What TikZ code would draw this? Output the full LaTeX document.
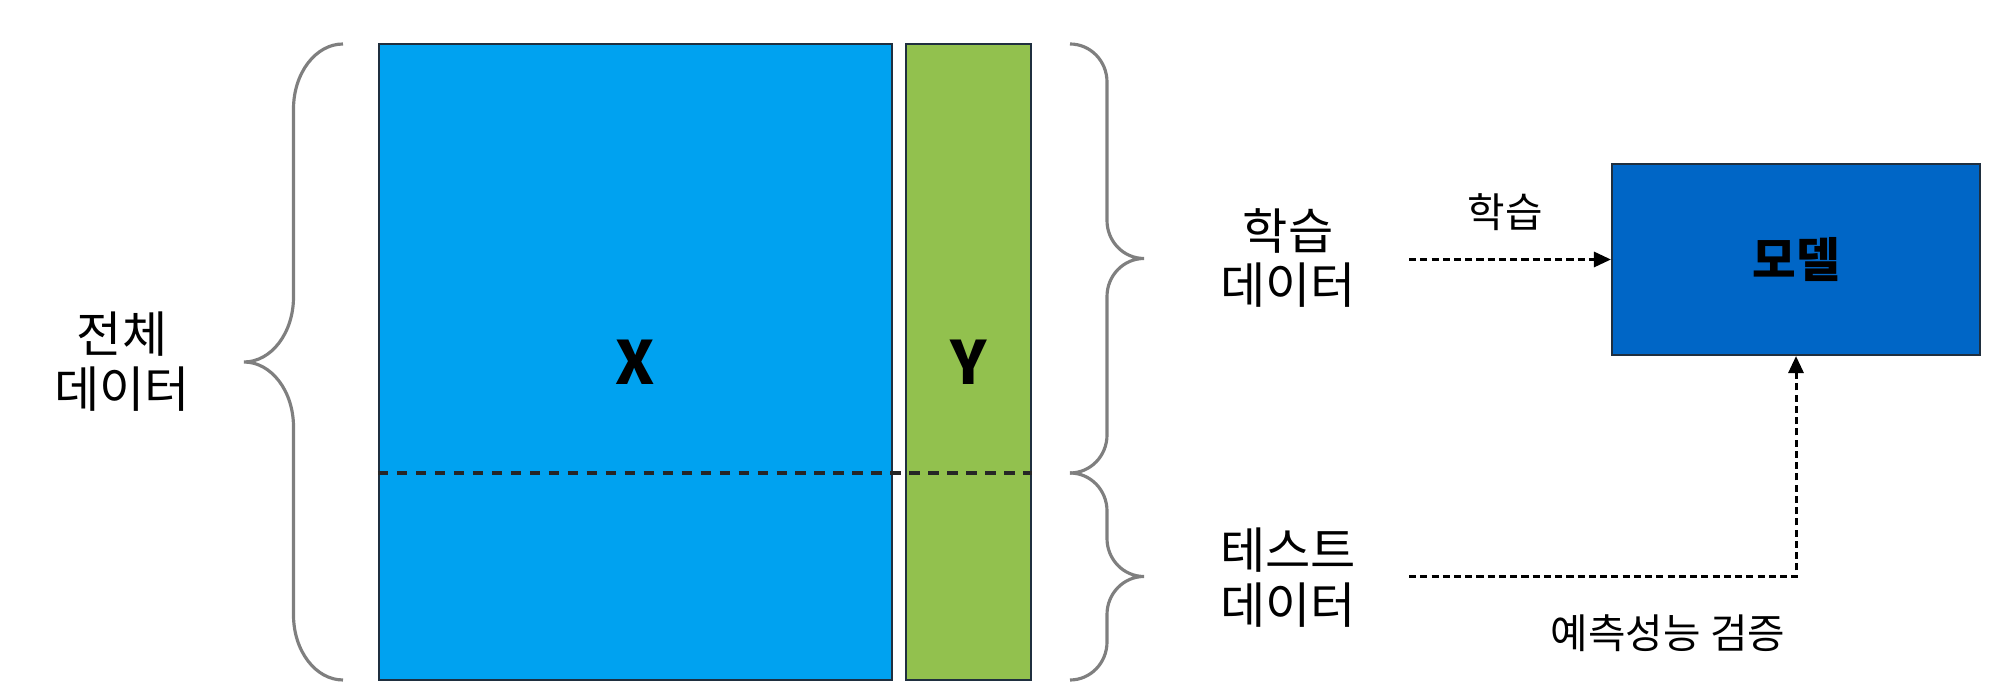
\documentclass[tikz,border=0pt]{standalone}
\usepackage{fontspec}
\setmainfont{Noto Sans CJK KR}
\usepackage{xcolor}
\usepackage{tikz}
\usetikzlibrary{arrows.meta, positioning, calc}
\definecolor{featblue}{HTML}{00A2F0}
\definecolor{targetgreen}{HTML}{92C14E}
\definecolor{modelblue}{HTML}{0066C6}
\definecolor{bracegray}{HTML}{7F7F7F}
\definecolor{edgedark}{HTML}{1F2F3F}

\begin{document}
\begin{tikzpicture}[
  colbox/.style={draw=edgedark, line width=0.6pt, minimum height=6.36cm, inner sep=0pt, font=\fontsize{17}{19}\selectfont\bfseries},
  bigtxt/.style={font=\fontsize{14}{15.6}\selectfont, align=center, inner sep=0pt},
  smalltxt/.style={font=\fontsize{11.6}{13}\selectfont, inner sep=0pt},
  bracepen/.style={draw=bracegray, line width=0.9pt},
  split/.style={draw=black!85, line width=1pt, dash pattern=on 3pt off 2.4pt},
  flow/.style={-{Triangle[length=1.7mm, width=1.5mm]}, line width=0.85pt, dash pattern=on 2pt off 1.2pt},
]
  \useasboundingbox (0,0) rectangle (20.09,6.99);

  % data table
  \node[colbox, fill=featblue, minimum width=5.13cm] (xcol) at (6.355,3.37) {X};
  \node[colbox, fill=targetgreen, minimum width=1.25cm] (ycol) at (9.685,3.37) {Y};
  \coordinate (cut) at (0,2.26);
  \draw[split] (xcol.west |- cut) -- (ycol.east |- cut);

  % braces
  \draw[bracepen] (3.43,6.55) arc[start angle=90, end angle=180, x radius=0.495, y radius=0.65]
    -- (2.935,4.02) arc[start angle=0, end angle=-90, x radius=0.495, y radius=0.65]
    arc[start angle=90, end angle=0, x radius=0.495, y radius=0.65]
    -- (2.935,0.84) arc[start angle=180, end angle=270, x radius=0.495, y radius=0.65];
  \draw[bracepen] (10.70,6.55) arc[start angle=90, end angle=0, x radius=0.37, y radius=0.38]
    -- (11.07,4.785) arc[start angle=180, end angle=270, x radius=0.37, y radius=0.38]
    arc[start angle=90, end angle=180, x radius=0.37, y radius=0.38]
    -- (11.07,2.64) arc[start angle=0, end angle=-90, x radius=0.37, y radius=0.38];
  \draw[bracepen] (10.70,2.26) arc[start angle=90, end angle=0, x radius=0.37, y radius=0.38]
    -- (11.07,1.605) arc[start angle=180, end angle=270, x radius=0.37, y radius=0.38]
    arc[start angle=90, end angle=180, x radius=0.37, y radius=0.38]
    -- (11.07,0.57) arc[start angle=0, end angle=-90, x radius=0.37, y radius=0.38];

  \node[bigtxt] (alldata) at (1.22,3.37) {전체\\데이터};
  \node[bigtxt] (traindata) at (12.88,4.41) {학습\\데이터};
  \node[bigtxt] (testdata) at (12.88,1.21) {테스트\\데이터};

  % model
  \node[draw=edgedark, line width=0.6pt, fill=modelblue, minimum width=3.68cm, minimum height=1.91cm,
    font=\fontsize{13.5}{15}\selectfont\bfseries] (model) at (17.96,4.395) {모델};

  \coordinate (trainsrc) at (14.09,4.395);
  \coordinate (testsrc) at (14.09,1.22);
  \draw[flow] (trainsrc) -- (model.west);
  \draw[flow] (testsrc) -| (model.south);

  \node[smalltxt] (trainlbl) at (15.05,4.87) {학습};
  \node[smalltxt] (checklbl) at (16.68,0.66) {예측성능 검증};

\end{tikzpicture}
\end{document}
